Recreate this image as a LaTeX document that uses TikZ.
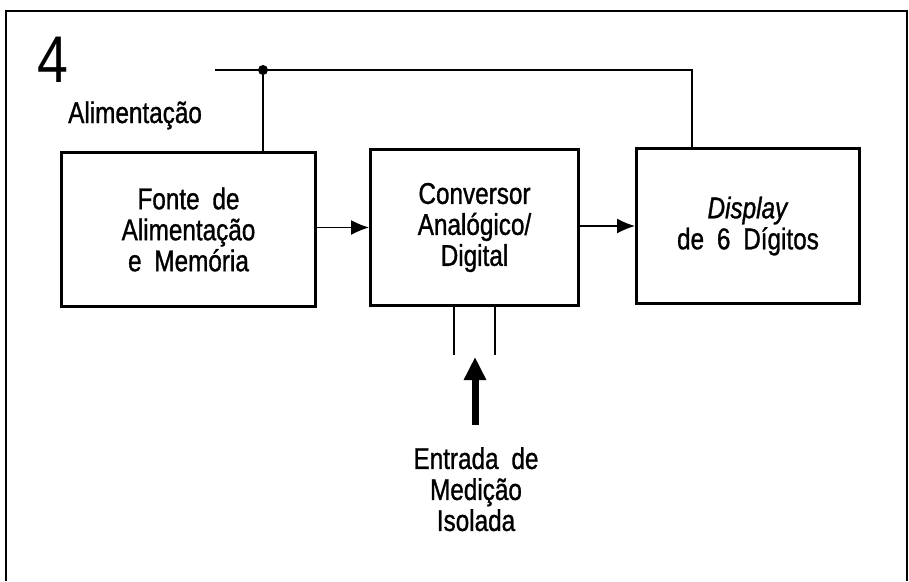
\documentclass[tikz,border=0pt]{standalone}
\usepackage{fontspec}
\setmainfont[FakeStretch=0.81,FakeBold=1,WordSpace=1.9]{Liberation Sans}
\newfontfamily\numfont[FakeStretch=0.84]{Liberation Sans}
\usetikzlibrary{arrows.meta}
\begin{document}
\begin{tikzpicture}[x=1pt,y=-1pt,
  blockbox/.style={draw,line width=3pt,align=center,inner sep=0pt,
    font=\fontsize{30}{31}\selectfont},
  wire/.style={line width=1.3pt},
  flowarrow/.style={line width=1.3pt,-{Latex[length=18pt,width=15pt]}},
  bigarrow/.style={line width=7pt,-{Triangle[length=23pt,width=21pt]}},
  lbl/.style={inner sep=0pt,font=\fontsize{30}{31}\selectfont,align=center}]
\useasboundingbox (0,0) rectangle (909,581);
% frame
\draw[line width=2pt] (6,581) -- (6,11) -- (907,11) -- (907,581);
% title number
\node[inner sep=0pt,anchor=base west,font=\numfont\fontsize{66}{70}\selectfont] (num) at (37,82) {4};
% blocks
\node[blockbox,minimum width=254pt,minimum height=154pt] (fonte) at (188.5,229.5)
  {Fonte de\\Alimentação\\e Memória};
\node[blockbox,minimum width=208pt,minimum height=156pt] (conv) at (474.5,227.5)
  {Conversor\\Analógico/\\Digital};
\node[blockbox,minimum width=223pt,minimum height=155pt] (disp) at (748,226)
  {\textit{Display}\\de 6 Dígitos};
% power line
\node[lbl,anchor=base west] (alim) at (68,123) {Alimentação};
\coordinate (pstart) at (215,70);
\coordinate (pcorner) at (692,70);
\fill (263,70) circle (5pt) coordinate (junc);
\draw[wire] (pstart) -- (pcorner) -- (pcorner |- disp.north);
\draw[wire] (junc) -- (junc |- fonte.north);
% flow arrows
\draw[flowarrow] (fonte.east |- conv.west) -- (conv.west);
\draw[flowarrow] (conv.east |- disp.west) -- (disp.west);
% measuring input
\coordinate (inL) at (454,355);
\coordinate (inR) at (495,355);
\draw[wire] (inL |- conv.south) -- (inL);
\draw[wire] (inR |- conv.south) -- (inR);
\coordinate (atail) at (475,425);
\coordinate (atip) at (475,357);
\draw[bigarrow] (atail) -- (atip);
\node[lbl,anchor=north] (entrada) at (476,447) {Entrada de\\Medição\\Isolada};
\end{tikzpicture}
\end{document}
